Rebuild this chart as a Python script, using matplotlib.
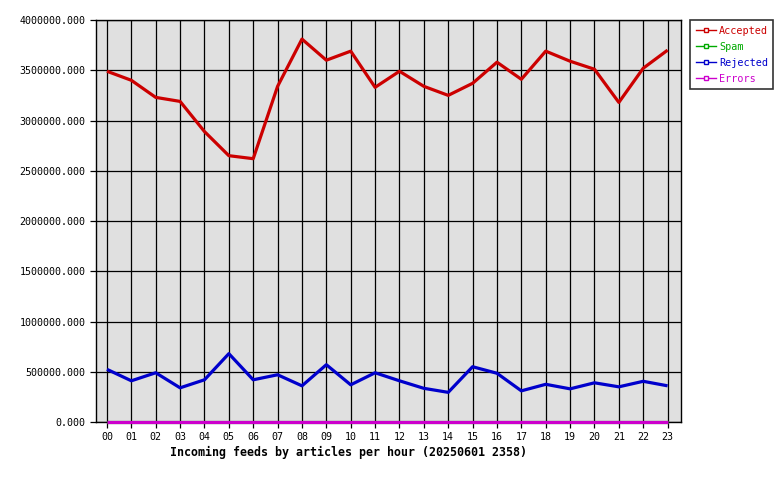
import numpy as np
import matplotlib.pyplot as plt

hours = ["%02d" % h for h in range(24)]
accepted = [3490000, 3400000, 3230000, 3190000, 2890000, 2650000, 2620000, 3340000,
            3810000, 3600000, 3690000, 3330000, 3490000, 3340000, 3250000, 3370000,
            3580000, 3410000, 3690000, 3590000, 3510000, 3180000, 3520000, 3700000]
spam = [0] * 24
rejected = [524000, 410000, 490000, 340000, 420000, 680000, 420000, 470000,
            360000, 570000, 370000, 490000, 410000, 335000, 295000, 550000,
            485000, 310000, 375000, 330000, 390000, 350000, 405000, 360000]
errors = [0] * 24

series = [("Accepted", accepted, "#cc0000"),
          ("Spam", spam, "#00aa00"),
          ("Rejected", rejected, "#0000cc"),
          ("Errors", errors, "#cc00cc")]

plt.rcParams['font.family'] = ['DejaVu Sans Mono']
fig = plt.figure(figsize=(7.8, 4.8), dpi=100)
ax = fig.add_axes([96 / 780, 58 / 480, 585 / 780, 402 / 480])
ax.set_facecolor("#e0e0e0")

x = np.arange(len(hours))
for name, vals, col in series:
    ax.plot(x, vals, color=col, lw=2.3, solid_capstyle='butt', clip_on=False, zorder=3)

ax.set_xlim(-0.45, 23.55)
ax.set_ylim(0, 4000000)
ax.set_xticks(x)
ax.set_xticklabels(hours)
ax.set_yticks(np.arange(0, 4000001, 500000))
ax.set_yticklabels(["%.3f" % v for v in np.arange(0, 4000001, 500000)])
ax.grid(True, color="black", lw=0.9)
ax.set_axisbelow(True)
ax.tick_params(labelsize=7.2, length=4, width=0.9, color="black")
for s in ax.spines.values():
    s.set_linewidth(1.0)
    s.set_zorder(2)

fig.text(349 / 780, 1 - 452 / 480, "Incoming feeds by articles per hour (20250601 2358)",
         ha="center", va="center", fontsize=8.4, fontweight="bold")

handles = [plt.Line2D([], [], color=col, lw=1.0, marker="s", markersize=2.5,
                      markerfacecolor="white", markeredgecolor=col)
           for name, vals, col in series]
leg = fig.legend(handles, [s[0] for s in series], loc="upper left",
                 bbox_to_anchor=(690 / 780, 1 - 20 / 480), fontsize=7.3,
                 frameon=True, fancybox=False, edgecolor="black",
                 handlelength=2.0, handletextpad=0.3, borderpad=0.55,
                 labelspacing=0.6, borderaxespad=0)
leg.get_frame().set_linewidth(1.2)
for t, (name, vals, col) in zip(leg.get_texts(), series):
    t.set_color(col)

fig.savefig("out.png", dpi=100)
